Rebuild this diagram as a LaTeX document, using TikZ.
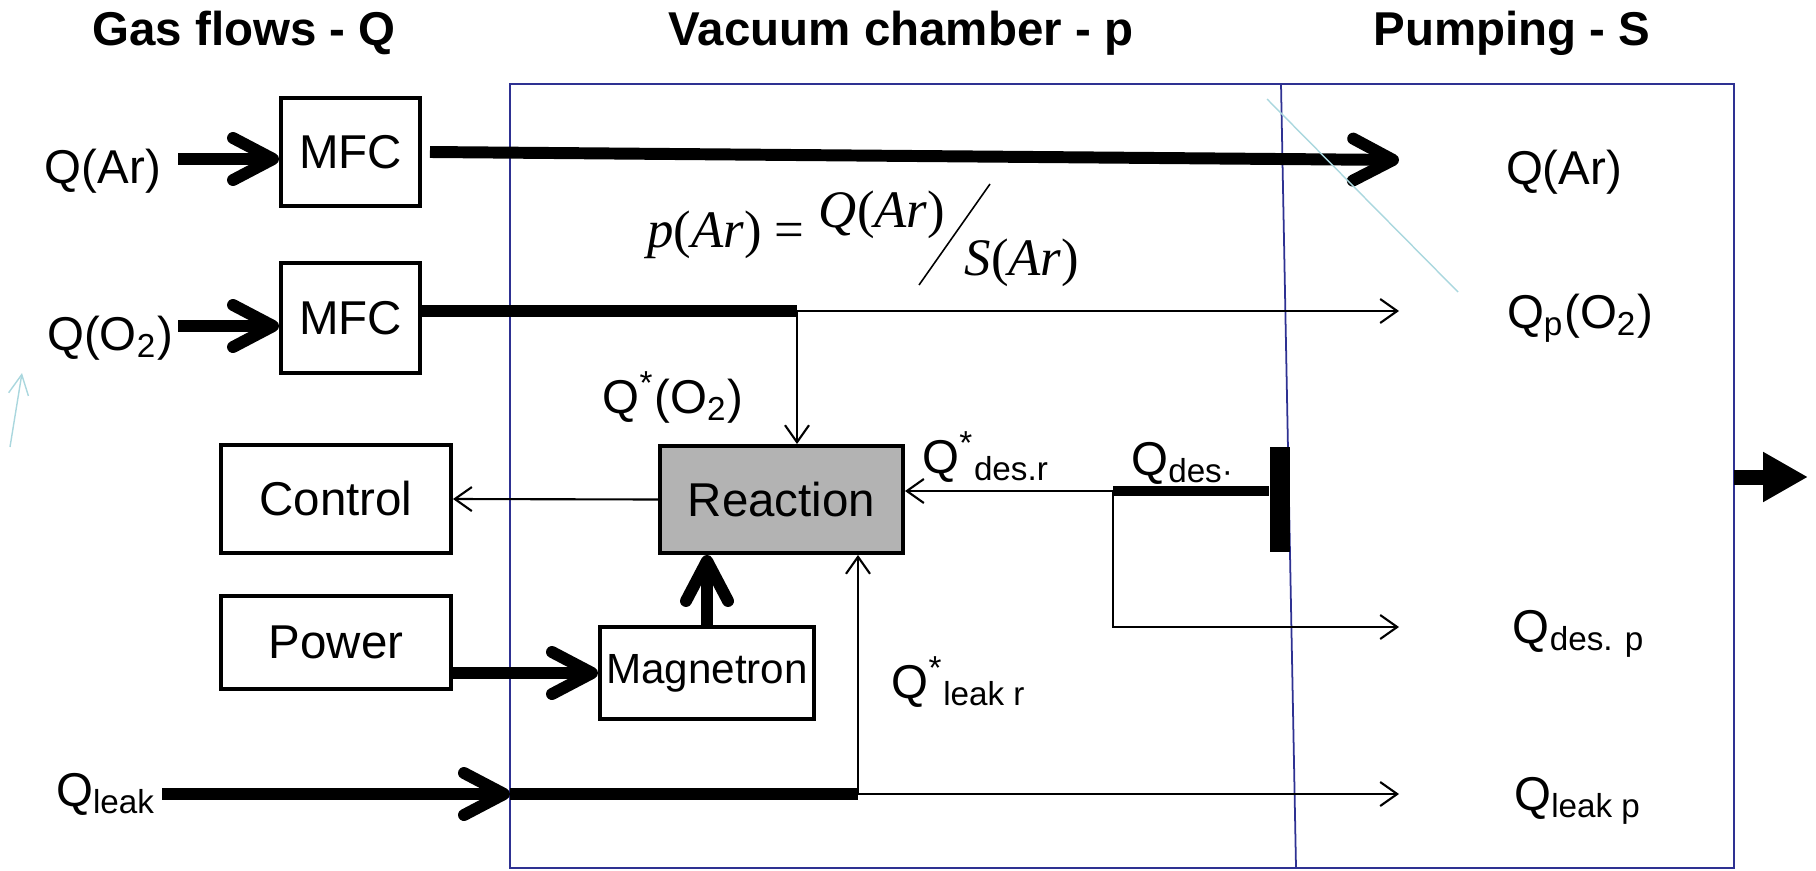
\documentclass[tikz,border=0pt]{standalone}
\usepackage{fontspec}
\setmainfont{Liberation Sans}
\newfontfamily\tms{Liberation Serif}
\usepackage{xcolor}
\usepackage{tikz}
\usetikzlibrary{arrows.meta}
\definecolor{chamber}{RGB}{46,49,146}
\definecolor{hint}{RGB}{170,215,222}
\definecolor{plasma}{RGB}{179,179,179}

\begin{document}
\begin{tikzpicture}[x=0.01cm,y=-0.01cm,font=\fontsize{13.5}{16}\selectfont,
box/.style={draw,line width=1.1pt,inner sep=0pt},
fat/.style={line width=3.4pt,-{Straight Barb[length=0.4cm,width=0.42cm,round]}},
pipe/.style={line width=3.4pt},
flow/.style={line width=0.6pt,-{Straight Barb[length=0.17cm,width=0.24cm]}},
cham/.style={draw=chamber,line width=0.5pt},
lbl/.style={anchor=base},
formula/.style={anchor=base,font=\tms\fontsize{15}{18}\selectfont}]
\useasboundingbox(0,0)rectangle(1816,870);
\draw[cham](510,84)rectangle(1734,868);
\draw[cham](1281,84)--(1296,868);
\node[lbl,font=\fontsize{13.5}{16}\selectfont\bfseries](tGas)at(244,46){Gas flows - Q};
\node[lbl,font=\fontsize{13.5}{16}\selectfont\bfseries](tVac)at(901,46){Vacuum chamber - p};
\node[lbl,font=\fontsize{13.5}{16}\selectfont\bfseries](tPump)at(1512,46){Pumping - S};
\node[box,minimum width=1.39cm,minimum height=1.08cm](mfcA)at(350.5,152){MFC};
\node[box,minimum width=1.39cm,minimum height=1.10cm](mfcB)at(350.5,318){MFC};
\node[box,minimum width=2.30cm,minimum height=1.08cm](ctrl)at(336,499){Control};
\node[box,minimum width=2.30cm,minimum height=0.93cm](pwr)at(336,642.5){Power};
\node[box,fill=plasma,minimum width=2.43cm,minimum height=1.07cm](react)at(781.5,499.5){Reaction};
\node[box,minimum width=2.14cm,minimum height=0.92cm,font=\fontsize{12}{14}\selectfont](magn)at(707,673){Magnetron};
\node[fill,inner sep=0pt,minimum width=0.2cm,minimum height=1.05cm](wall)at(1280,499.5){};
\node[lbl](qAr)at(103,183){Q(Ar)};
\node[lbl](qOO)at(110,350){Q(O\textsubscript{2})};
\node[lbl](qLk)at(106,806){Q\textsubscript{leak}};
\node[lbl](qRO)at(673,413){Q\textsuperscript{*}(O\textsubscript{2})};
\node[lbl](qDr)at(986,473){Q\textsuperscript{*}\textsubscript{des.r}};
\node[lbl](qDs)at(1183,475){Q\textsubscript{des·}};
\node[lbl](qLr)at(959,698){Q\textsuperscript{*}\textsubscript{leak r}};
\node[lbl](pAr)at(1564,185){Q(Ar)};
\node[lbl](pOO)at(1580,328){Q\textsubscript{p}(O\textsubscript{2})};
\node[lbl](pDs)at(1579,643){Q\textsubscript{des. p}};
\node[lbl](pLk)at(1578,810){Q\textsubscript{leak p}};
\node[formula](fP)at(726,248){\textit{p}(\textit{Ar}) =};
\node[formula](fQ)at(882,228){\textit{Q}(\textit{Ar})};
\node[formula](fS)at(1022,275){\textit{S}(\textit{Ar})};
\draw[line width=0.45pt](919,285)--(990,184);
\coordinate(sAr)at(178,159);
\coordinate(sO2)at(178,326);
\coordinate(sLk)at(162,794);
\coordinate(cIn)at(510,794);
\coordinate(jO2)at(797,311);
\coordinate(jLk)at(858,794);
\coordinate(jDs)at(1113,491);
\coordinate(tAr)at(1399,160);
\coordinate(tO2)at(1399,311);
\coordinate(tDs)at(1399,627);
\coordinate(tLk)at(1399,794);
\draw[fat](sAr)--(sAr-|mfcA.west);
\draw[fat](sO2)--(sO2-|mfcB.west);
\draw[fat]([xshift=0.08cm]mfcA.east)--(tAr);
\draw[pipe](mfcB.east|-jO2)--(jO2);
\draw[flow](jO2)--(tO2);
\draw[flow](jO2)--(jO2|-react.north);
\draw[flow](react.west)--(ctrl.east);
\draw[fat](pwr.east|-magn.west)--(magn.west);
\draw[fat](magn.north)--(magn.north|-react.south);
\draw[fat](sLk)--(cIn);
\draw[pipe](cIn)--(jLk);
\draw[flow](jLk)--(tLk);
\draw[flow](jLk)--(jLk|-react.south);
\draw[line width=2.9pt](jDs)--(wall.west|-jDs);
\draw[flow](jDs)--(jDs-|react.east);
\draw[flow](jDs)--(jDs|-tDs)--(tDs);
\draw[line width=0.15cm,-{Triangle[length=0.45cm,width=0.47cm]}](1734,477)--(1808,477);
\draw[hint,line width=0.4pt](1267,99)--(1458,292);
\draw[hint,line width=0.4pt,-{Straight Barb[length=0.2cm,width=0.2cm]}](10,447)--(22,373);
\end{tikzpicture}
\end{document}
